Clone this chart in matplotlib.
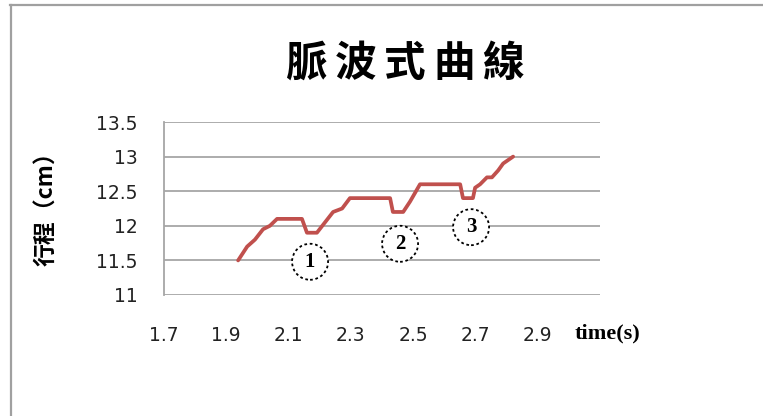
import matplotlib
matplotlib.use("Agg")
import matplotlib.pyplot as plt
from matplotlib.patches import Ellipse
from matplotlib.lines import Line2D

# data
time_s = [1.938, 1.967, 1.992, 2.018, 2.040, 2.063, 2.143, 2.159, 2.191, 2.217,
          2.243, 2.272, 2.297, 2.426, 2.435, 2.468, 2.490, 2.522, 2.651, 2.660,
          2.692, 2.699, 2.715, 2.737, 2.753, 2.773, 2.789, 2.805, 2.821]
stroke_cm = [11.5, 11.7, 11.8, 11.95, 12.0, 12.1, 12.1, 11.9, 11.9, 12.05,
             12.2, 12.25, 12.4, 12.4, 12.2, 12.2, 12.35, 12.6, 12.6, 12.4,
             12.4, 12.55, 12.6, 12.7, 12.7, 12.8, 12.9, 12.95, 13.0]
x_ticks = [1.7, 1.9, 2.1, 2.3, 2.5, 2.7, 2.9]
y_ticks = [11, 11.5, 12, 12.5, 13, 13.5]
marker_labels = ["1", "2", "3"]
marker_x = [2.169, 2.458, 2.686]
marker_y = [11.48, 11.74, 11.98]
title_chars = list("脈波式曲線")

fig = plt.figure(figsize=(7.63, 4.16), dpi=100)
ax = fig.add_axes([164/763, 1-295/416, (600-164)/763, (295-122)/416])

ax.plot(time_s, stroke_cm, color="#C0504D", lw=2.7, solid_joinstyle="round",
        solid_capstyle="round", zorder=3)

ax.set_xlim(1.7, 3.1)
ax.set_ylim(11, 13.5)
ax.set_xticks(x_ticks)
ax.set_xticklabels([f"{v:g}" for v in x_ticks])
ax.set_yticks(y_ticks)
ax.set_yticklabels([f"{v:g}" for v in y_ticks])
ax.grid(axis="y", color="#a6a6a6", lw=1.3)
ax.set_axisbelow(True)
for s in ["top", "right", "bottom"]:
    ax.spines[s].set_visible(False)
ax.spines["left"].set_color("#a6a6a6")
ax.spines["left"].set_linewidth(1.3)
ax.tick_params(axis="both", length=0, labelsize=13.5, colors="#222222")
ax.tick_params(axis="y", pad=19)
ax.tick_params(axis="x", pad=22)

# circled markers
w = 36/311.4
h = 36/69.2
for lab, mx, my in zip(marker_labels, marker_x, marker_y):
    ax.add_patch(Ellipse((mx, my), w, h, facecolor="white", edgecolor="black",
                         lw=1.3, ls=(0, (1.5, 1.5)), zorder=4, clip_on=False))
    ax.text(mx, my, lab, ha="center", va="center", fontsize=15,
            fontweight="bold", family="Liberation Serif", zorder=5)

# title, characters spaced out
for i, ch in enumerate(title_chars):
    fig.text((307 + 49*i)/763, 1-64/416, ch, ha="center", va="center",
             fontsize=30, fontweight="bold",
             family=["Noto Sans CJK TC", "DejaVu Sans"])
fig.text(47/763, 1-203/416, "行程（cm）", ha="center", va="center",
         rotation=90, fontsize=16.5, fontweight="bold",
         family=["Noto Sans CJK TC", "DejaVu Sans"])
fig.text(607/763, 1-333/416, "time(s)", ha="center", va="center",
         fontsize=16, fontweight="bold", family="Liberation Serif")

# chart border (top and left)
fig.add_artist(Line2D([10.5/763, 10.5/763], [0, 1-5/416], transform=fig.transFigure,
                      color="#a0a0a0", lw=1.6))
fig.add_artist(Line2D([10/763, 1], [1-5/416, 1-5/416], transform=fig.transFigure,
                      color="#a0a0a0", lw=1.6))

fig.savefig("out.png", dpi=100)
